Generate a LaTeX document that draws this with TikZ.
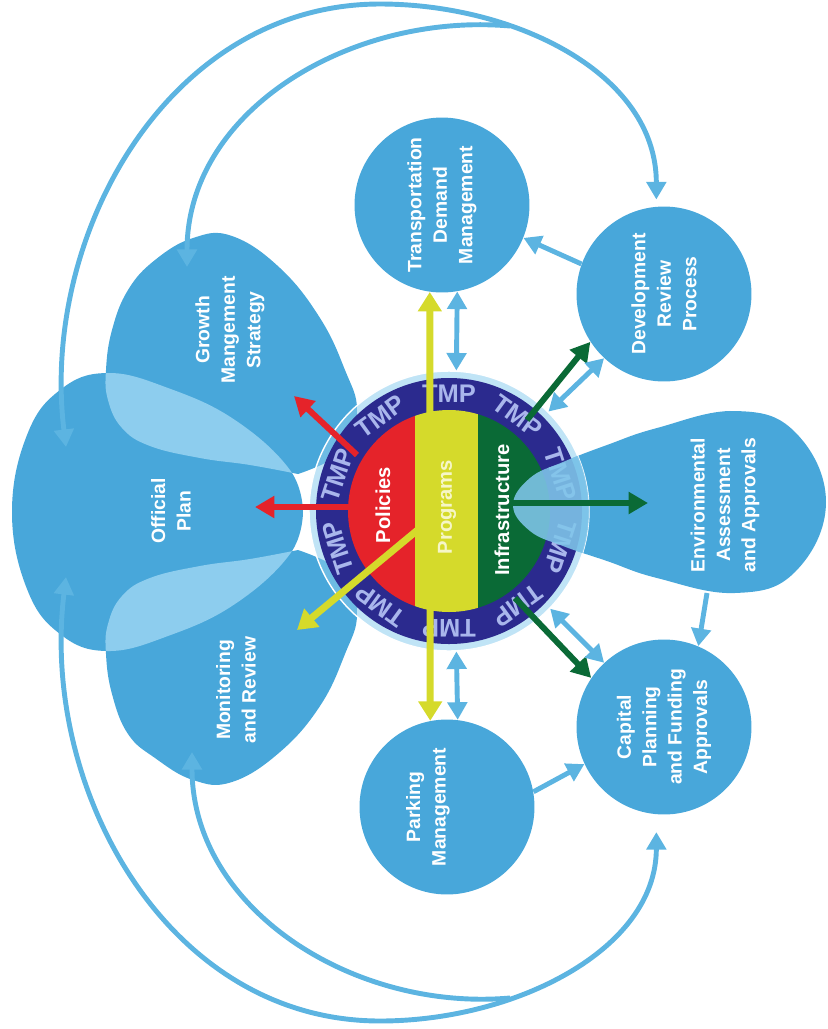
\documentclass[tikz,border=0pt]{standalone}
\usepackage{fontspec}
\setmainfont{Liberation Sans}
\usepackage{xcolor}
\usetikzlibrary{arrows.meta, calc}

\definecolor{petal}{HTML}{48A7DA}
\definecolor{lens}{HTML}{8DCDEE}
\definecolor{linkblue}{HTML}{5CB4E1}
\definecolor{tmpnavy}{HTML}{2B2A8E}
\definecolor{tmptext}{HTML}{A9B6EC}
\definecolor{polred}{HTML}{E5232A}
\definecolor{progyellow}{HTML}{D5DA2B}
\definecolor{progtext}{HTML}{F6F6C8}
\definecolor{infgreen}{HTML}{0A6A36}
\definecolor{envlight}{HTML}{80C6EA}

\begin{document}
\begin{tikzpicture}[
    x=0.02cm, y=0.02cm,
    >={Triangle[length=10pt, width=11pt]},
    bubble/.style={circle, fill=petal, minimum size=3.5cm, inner sep=0pt},
    lbl/.style={rotate=90, align=center, text=white, font=\bfseries\fontsize{11}{14.5}\selectfont},
    inlbl/.style={rotate=90, text=white, font=\bfseries\fontsize{11.5}{14}\selectfont},
    ringword/.style={inner sep=0pt, text=tmptext, font=\bfseries\fontsize{14.5}{14.5}\selectfont},
    link/.style={draw=linkblue, line width=2.8pt},
    polarrow/.style={draw=polred, line width=3.4pt, >={Triangle[length=11pt, width=12pt]}},
    progarrow/.style={draw=progyellow, line width=4pt, >={Triangle[length=11pt, width=13pt]}},
    infarrow/.style={draw=infgreen, line width=3.4pt, >={Triangle[length=11pt, width=12pt]}}
]
\useasboundingbox (0,0) rectangle (828,-1029);

% petals
\path[save path=\oppath] plot[smooth, tension=0.7] coordinates {(303,-512) (290,-470) (235,-420) (168,-388) (107,-373) (60,-390) (27,-435) (12,-512) (27,-589) (60,-634) (107,-651) (168,-636) (235,-604) (290,-554) (303,-512)};
\path[save path=\gmspath] plot[smooth, tension=0.7] coordinates {(298,-474) (250,-465) (200,-458) (150,-446) (122,-428) (108,-400) (106,-370) (112,-330) (128,-290) (155,-260) (193,-238) (232,-236) (280,-268) (320,-318) (345,-370) (357,-410) (345,-450) (298,-474)};
\path[save path=\monpath] plot[smooth, tension=0.7] coordinates {(298,-550) (250,-559) (200,-566) (150,-578) (122,-596) (108,-624) (106,-654) (112,-694) (128,-734) (155,-758) (193,-780) (232,-782) (280,-752) (320,-706) (345,-654) (357,-614) (345,-574) (298,-550)};
\path[save path=\envpath] plot[smooth cycle, tension=0.7] coordinates {(513,-505) (530,-478) (563,-462) (607,-445) (657,-428) (735,-411) (795,-432) (826,-502) (795,-572) (735,-593) (657,-578) (607,-561) (563,-546) (530,-531)};

\fill[petal, use path=\gmspath];
\fill[petal, use path=\monpath];
\fill[petal, use path=\oppath];
\fill[petal, use path=\envpath];
\begin{scope}
  \clip[use path=\oppath];
  \fill[lens, use path=\gmspath];
  \fill[lens, use path=\monpath];
\end{scope}

% outer bubbles
\node[bubble] (tdm) at (442,-205) {};
\node[bubble] (dev) at (664,-294) {};
\node[bubble] (park) at (447,-807) {};
\node[bubble] (cap) at (664,-727) {};

% TMP hub
\node[circle, minimum size=5.6cm, inner sep=0pt, fill=lens, fill opacity=0.55, draw=white, line width=0.8pt] (tmp) at (449,-511) {};
\fill[tmpnavy] (tmp) circle[radius=133];
\begin{scope}
  \clip (tmp) circle[radius=101];
  \fill[polred] (340,-400) rectangle (415,-620);
  \fill[progyellow] (415,-400) rectangle (478,-620);
  \fill[infgreen] (478,-400) rectangle (560,-620);
\end{scope}
\foreach \i in {0,...,9}
  \node[ringword, rotate=18+36*\i-90] (tmpword\i) at ($(tmp)+(18+36*\i:117)$) {TMP};
\begin{scope}
  \clip (tmp) circle[radius=140];
  \fill[envlight, fill opacity=0.88, use path=\envpath];
\end{scope}

% long links
\coordinate (opN) at (66,-447);
\coordinate (opS) at (66,-577);
\coordinate (topN) at (380,-4);
\coordinate (topS) at (380,-1021);
\coordinate (mergeN) at (510,-26);
\coordinate (mergeS) at (510,-998);
\coordinate (gmsIn) at (187,-267);
\coordinate (monIn) at (192,-752);
\draw[link, <->, shorten >=4pt] (opN) to[out=97, in=180] (topN) to[out=0, in=90] (dev.95);
\draw[link, ->] (mergeN) to[out=175, in=90] (gmsIn);
\draw[link, <->, shorten >=10pt] (opS) to[out=-97, in=180] (topS) to[out=0, in=-90] (cap.265);
\draw[link, ->] (mergeS) to[out=-175, in=-90] (monIn);

% hub arrows
\coordinate (polN) at (357,-455);
\coordinate (gmsTip) at (294,-396);
\coordinate (polW) at (350,-507);
\coordinate (opTip) at (255,-507);
\coordinate (progS) at (420,-528);
\coordinate (monTip) at (297,-630);
\coordinate (infN) at (527,-420);
\coordinate (infE) at (513,-503);
\coordinate (envTip) at (648,-503);
\coordinate (infS) at (515,-598);
\coordinate (envS) at (707,-593);

\draw[polarrow, ->] (polN) -- (gmsTip);
\draw[polarrow, ->] (polW) -- (opTip);
\draw[progarrow, <->] (tdm.262) -- (park.101);
\draw[progarrow, ->] (progS) -- (monTip);
\draw[infarrow, ->] (infN) -- (dev.213);
\draw[infarrow, ->] (infE) -- (envTip);
\draw[infarrow, ->] (infS) -- (cap.146);

\draw[link, <->] (tmp.87) -- (tdm.280);
\draw[link, <->] (tmp.-87) -- (park.83);
\draw[link, <->] (tmp.45) -- (dev.227);
\draw[link, <->] (tmp.-44) -- (cap.133);
\draw[link, ->] (dev.160) -- (tdm.-22);
\draw[link, ->] (park.10) -- (cap.205);
\draw[link, ->] (envS) -- (cap.67);

% labels
\node[lbl] (opText) at (171,-511) {Official\\Plan};
\node[lbl] (gmsText) at (230,-330) {Growth\\Mangement\\Strategy};
\node[lbl] (monText) at (236,-690) {Monitoring\\and Review};
\node[lbl] (tdmText) at (tdm) {Transportation\\Demand\\Management};
\node[lbl] (devText) at (dev) {Development\\Review\\Process};
\node[lbl] (envText) at (725,-505) {Environmental\\Assessment\\and Approvals};
\node[lbl] (capText) at (cap) {Capital\\Planning\\and Funding\\Approvals};
\node[lbl] (parkText) at (428,-807) {Parking\\Management};
\node[inlbl] (polText) at (383,-505) {Policies};
\node[inlbl, text=progtext] (progText) at (447,-507) {Programs};
\node[inlbl] (infText) at (502,-510) {Infrastructure};

\end{tikzpicture}
\end{document}
